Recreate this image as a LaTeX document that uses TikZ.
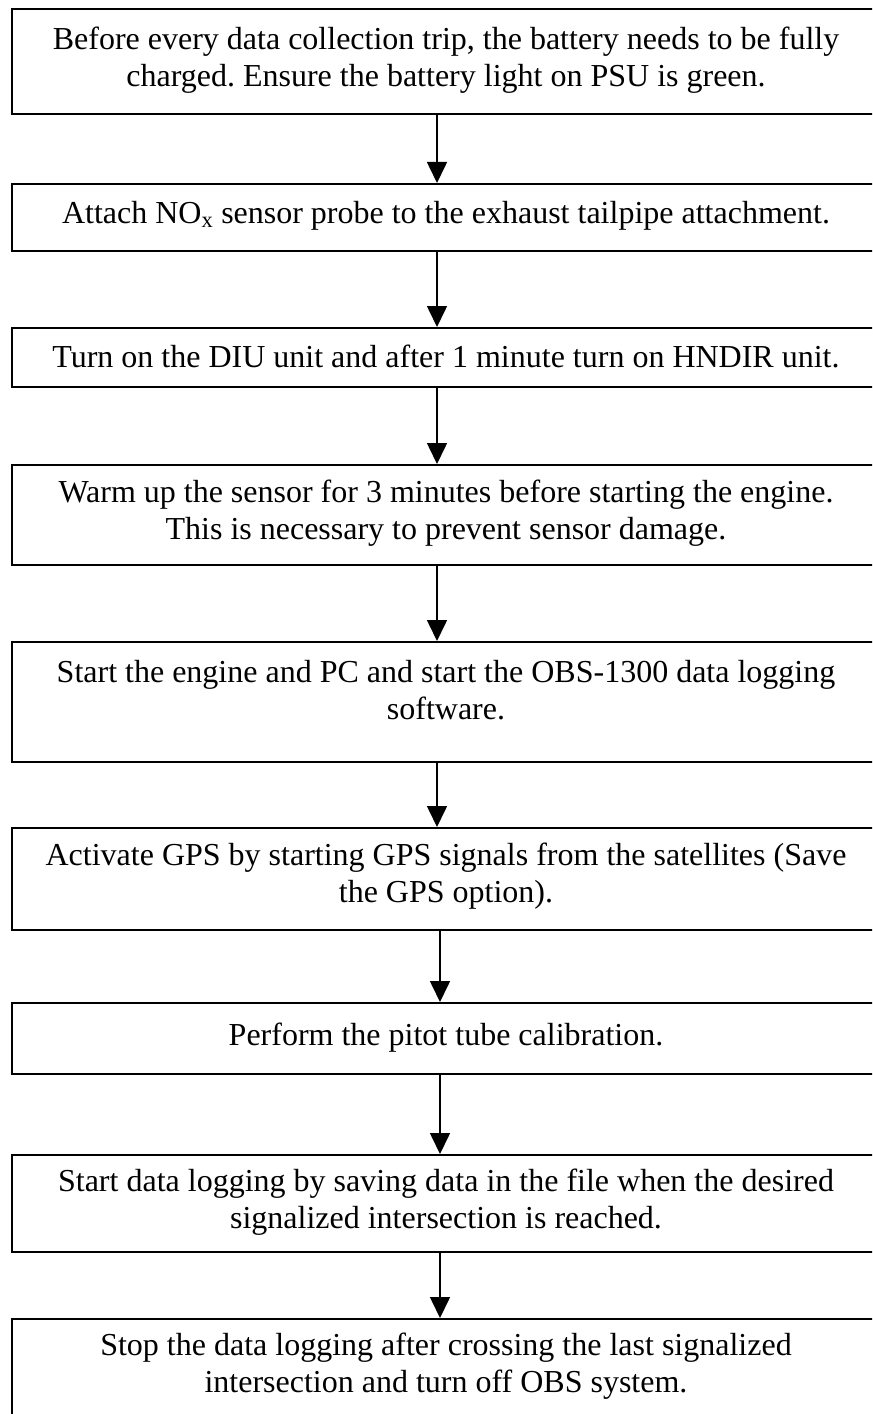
\documentclass[tikz,border=0pt]{standalone}
\usepackage{fontspec}
\setmainfont{Liberation Serif}
\usetikzlibrary{arrows.meta}
\frenchspacing
\begin{document}
\begin{tikzpicture}[x=1bp,y=-1bp,
  stepbox/.style={draw=black,line width=1.6bp,rectangle,inner sep=0pt,minimum width=868bp,anchor=north},
  txt/.style={align=center,inner sep=0pt,font=\fontsize{32bp}{37bp}\selectfont},
  flow/.style={draw=black,line width=1.6bp,-{Triangle[width=20bp,length=21bp]}}]
\useasboundingbox (0,0) rectangle (872,1414);
\clip (0,0) rectangle (872,1414);
\fill[white] (0,0) rectangle (872,1414);
% boxes (left edge 12, right edge 880, clipped)
\node[stepbox,minimum height=105bp] (b1) at (446,8) {};
\node[stepbox,minimum height=67bp]  (b2) at (446,183) {};
\node[stepbox,minimum height=59bp]  (b3) at (446,327) {};
\node[stepbox,minimum height=100bp] (b4) at (446,464) {};
\node[stepbox,minimum height=120bp] (b5) at (446,641) {};
\node[stepbox,minimum height=102bp] (b6) at (446,827) {};
\node[stepbox,minimum height=71bp]  (b7) at (446,1002) {};
\node[stepbox,minimum height=97bp]  (b8) at (446,1154) {};
\node[stepbox,minimum height=120bp] (b9) at (446,1318) {};
% texts
\node[txt] (t1) at ([yshift=1bp]b1.center) {Before every data collection trip, the battery needs to be fully\\charged. Ensure the battery light on PSU is green.};
\node[txt] (t2) at ([yshift=1bp]b2.center) {Attach NO\textsubscript{x} sensor probe to the exhaust tailpipe attachment.};
\node[txt] (t3) at ([yshift=1bp]b3.center) {Turn on the DIU unit and after 1 minute turn on HNDIR unit.};
\node[txt] (t4) at ([yshift=2bp]b4.center) {Warm up the sensor for 3 minutes before starting the engine.\\This is necessary to prevent sensor damage.};
\node[txt] (t5) at ([yshift=12bp]b5.center) {Start the engine and PC and start the OBS-1300 data logging\\software.};
\node[txt] (t6) at ([yshift=3bp]b6.center) {Activate GPS by starting GPS signals from the satellites (Save\\the GPS option).};
\node[txt] (t7) at ([yshift=1bp]b7.center) {Perform the pitot tube calibration.};
\node[txt] (t8) at ([yshift=1bp]b8.center) {Start data logging by saving data in the file when the desired\\signalized intersection is reached.};
\node[txt] (t9) at (446,1366) {Stop the data logging after crossing the last signalized\\intersection and turn off OBS system.};
% arrows
\draw[flow] (b1.south -| 437,0) -- (b2.north -| 437,0);
\draw[flow] (b2.south -| 437,0) -- (b3.north -| 437,0);
\draw[flow] (b3.south -| 437,0) -- (b4.north -| 437,0);
\draw[flow] (b4.south -| 437,0) -- (b5.north -| 437,0);
\draw[flow] (b5.south -| 437,0) -- (b6.north -| 437,0);
\draw[flow] (b6.south -| 440,0) -- (b7.north -| 440,0);
\draw[flow] (b7.south -| 440,0) -- (b8.north -| 440,0);
\draw[flow] (b8.south -| 440,0) -- (b9.north -| 440,0);
\end{tikzpicture}
\end{document}
